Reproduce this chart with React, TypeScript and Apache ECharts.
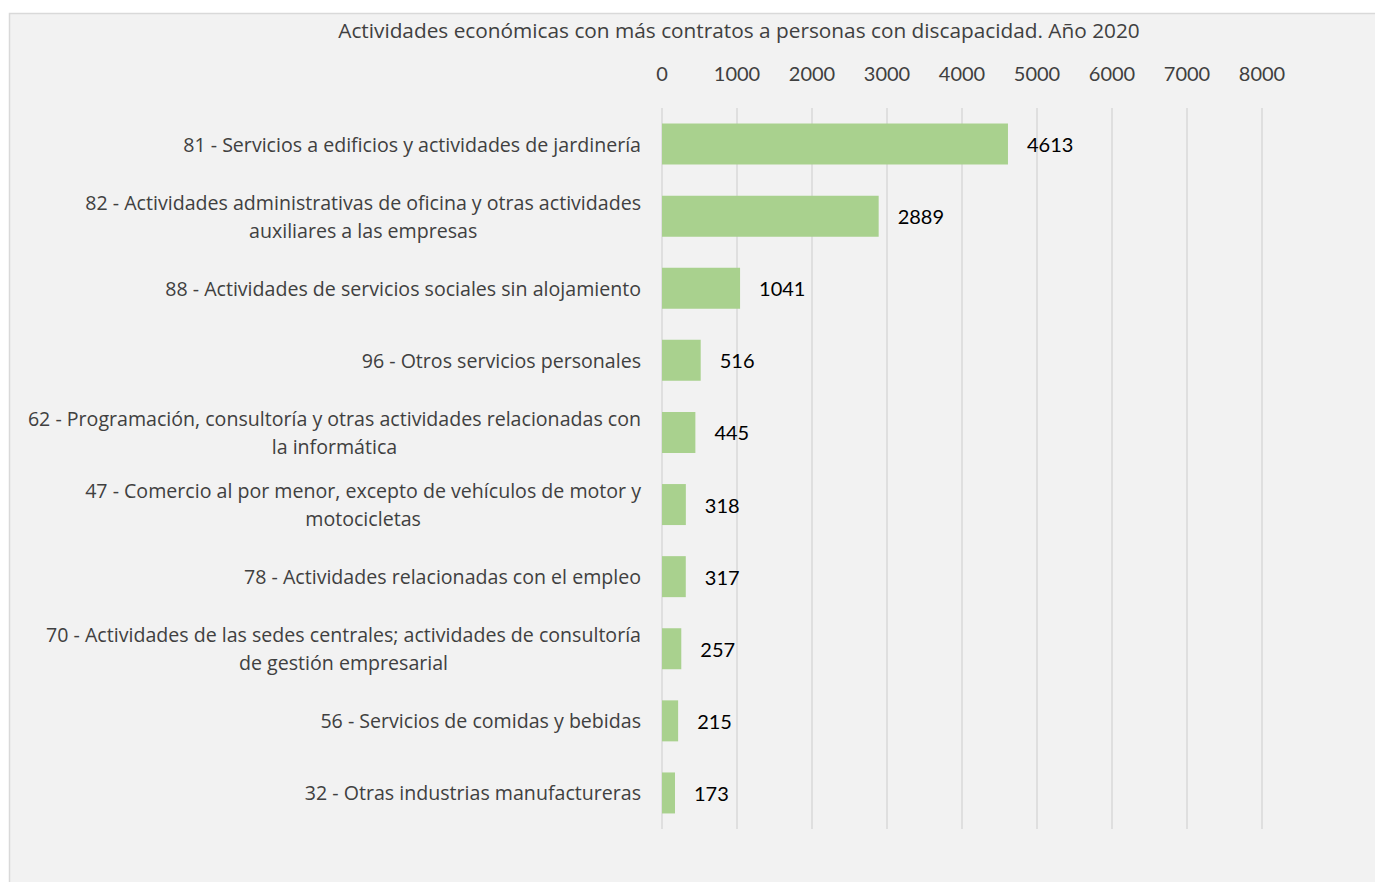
import React, { useEffect, useRef } from "react";
import * as echarts from "echarts";

const TITLE = "Actividades económicas con más contratos a personas con discapacidad. Año 2020";

const categories: string[] = [
  "81 - Servicios a edificios y actividades de jardinería",
  "82 - Actividades administrativas de oficina y otras actividades\nauxiliares a las empresas",
  "88 - Actividades de servicios sociales sin alojamiento",
  "96 - Otros servicios personales",
  "62 - Programación, consultoría y otras actividades relacionadas con\nla informática",
  "47 - Comercio al por menor, excepto de vehículos de motor y\nmotocicletas",
  "78 - Actividades relacionadas con el empleo",
  "70 - Actividades de las sedes centrales; actividades de consultoría\nde gestión empresarial",
  "56 - Servicios de comidas y bebidas",
  "32 - Otras industrias manufactureras",
];

const values: number[] = [4613, 2889, 1041, 516, 445, 318, 317, 257, 215, 173];

const xMin = 0;
const xMax = 8000;
const xInterval = 1000;

const NUM_FONT = "Lato, 'Open Sans', sans-serif";
const TXT_FONT = "'Open Sans', Lato, sans-serif";

export default function App() {
  const ref = useRef<HTMLDivElement>(null);

  useEffect(() => {
    document.body.style.margin = "0";
    const chart = echarts.init(ref.current!, null, { renderer: "svg" });
    chart.setOption({
      animation: false,
      backgroundColor: "#ffffff",
      graphic: [
        {
          type: "rect",
          z: -10,
          shape: { x: 9.5, y: 13.5, width: 1400, height: 900 },
          style: { fill: "#f2f2f2", stroke: "#d9d9d9", lineWidth: 1.5 },
          silent: true,
        },
      ],
      title: {
        text: TITLE,
        left: 734,
        top: 14,
        textAlign: "center",
        textStyle: {
          fontFamily: TXT_FONT,
          fontSize: 20.8,
          fontWeight: "normal",
          color: "#404040",
        },
      },
      grid: { left: 662, right: 113, top: 108, bottom: 53, containLabel: false },
      xAxis: {
        type: "value",
        position: "top",
        min: xMin,
        max: xMax,
        interval: xInterval,
        axisLine: { show: false },
        axisTick: { show: false },
        axisLabel: {
          margin: 25,
          fontFamily: NUM_FONT,
          fontSize: 20,
          color: "#404040",
          formatter: (v: number) => String(v),
        },
        splitLine: { show: true, lineStyle: { color: "#d9d9d9", width: 1.5 } },
      },
      yAxis: {
        type: "category",
        inverse: true,
        data: categories,
        axisLine: { show: false },
        axisTick: { show: false },
        axisLabel: {
          margin: 21,
          align: "right",
          lineHeight: 28,
          formatter: (v: string) =>
            v
              .split("\n")
              .map((l) => `{c|${l}}`)
              .join("\n"),
          rich: {
            c: {
              align: "center",
              fontFamily: TXT_FONT,
              fontSize: 19.6,
              color: "#404040",
              lineHeight: 28,
            },
          },
        },
      },
      series: [
        {
          type: "bar",
          data: values,
          barWidth: 41,
          itemStyle: { color: "#a9d18e" },
          label: {
            show: true,
            position: "right",
            distance: 19,
            fontFamily: NUM_FONT,
            fontSize: 20,
            color: "#000000",
          },
        },
      ],
    });
    return () => chart.dispose();
  }, []);

  return <div ref={ref} style={{ width: 1375, height: 882 }} />;
}
